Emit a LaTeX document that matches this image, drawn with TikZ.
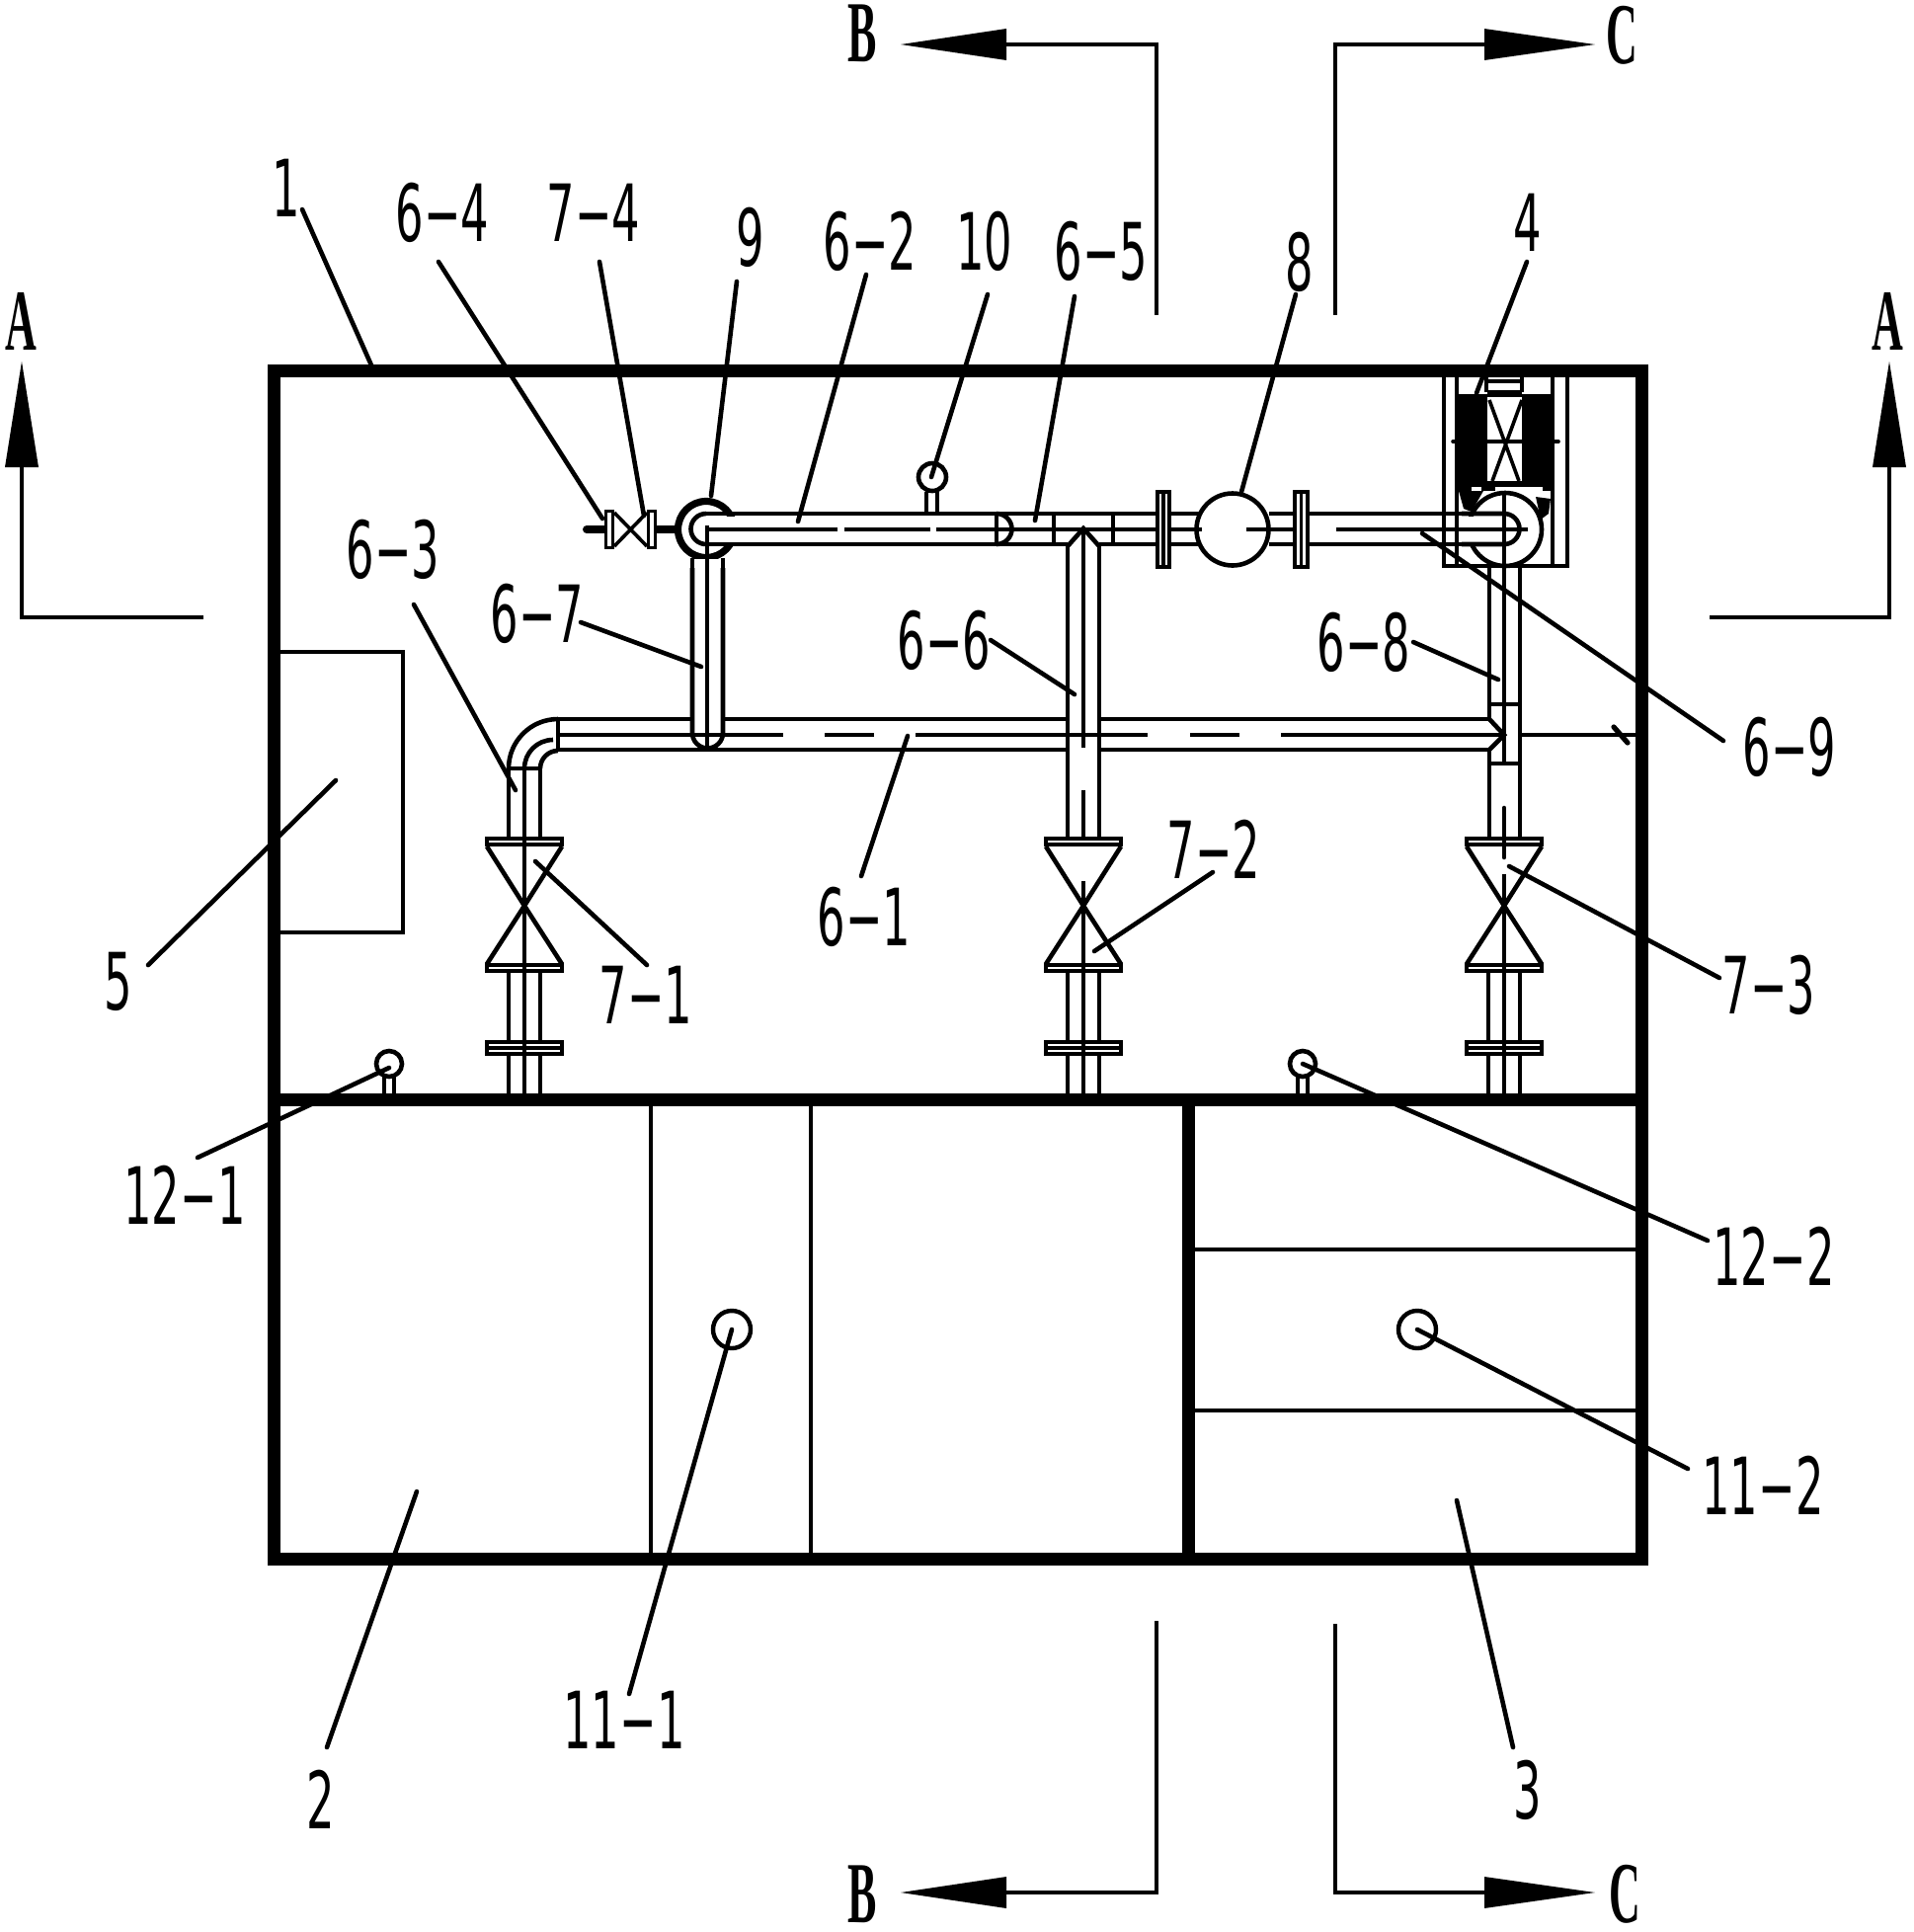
\documentclass[tikz,border=0pt]{standalone}
\usepackage{fontspec}
\usepackage{graphicx}
\newfontfamily\labfont[FakeStretch=0.56]{DejaVu Sans}
\newfontfamily\secfont{Liberation Serif Bold}
\newcommand{\seclet}[1]{\scalebox{0.5}[1]{#1}}
\tikzset{
  x=0.5pt,y=-0.5pt,
  pipe/.style={line width=2.3pt},
  thickwall/.style={line width=6.5pt,line join=miter},
  leader/.style={line width=2.3pt,line cap=round},
  lab/.style={inner sep=0pt,font=\labfont\fontsize{40}{40}\selectfont},
  sec/.style={inner sep=0pt,font=\secfont\fontsize{44}{44}\selectfont},
  secline/.style={line width=2.4pt},
  tip/.style={fill=black,draw=none},
}
\newcommand{\vvalve}[1]{%
  \draw[pipe,fill=white] (#1-38,849) rectangle (#1+38,855);
  \draw[pipe] (#1-38,857) -- (#1,917) -- (#1+38,857);
  \draw[pipe] (#1-38,976) -- (#1,917) -- (#1+38,976);
  \draw[pipe,fill=white] (#1-38,977) rectangle (#1+38,983);
  \draw[pipe,fill=white] (#1-38,1055) rectangle (#1+38,1067);
  \draw[line width=1.6pt] (#1-38,1061) -- (#1+38,1061);
  \draw[pipe] (#1-16,985) -- (#1-16,1054) (#1+16,985) -- (#1+16,1054);
  \draw[pipe] (#1-16,1068) -- (#1-16,1107) (#1+16,1068) -- (#1+16,1107);
}
\newcommand{\leadlab}[6]{% name, text, label x, label y, from, to
  \node[lab] (#1) at (#3,#4) {#2};
  \coordinate (#1a) at #5;
  \coordinate (#1b) at #6;
  \draw[leader] (#1a) -- (#1b);
}
\begin{document}
\begin{tikzpicture}
\useasboundingbox (0,0) rectangle (1938,1956);
\fill[white] (0,0) rectangle (1938,1956);

% ---- frame
\draw[thickwall] (277,375) rectangle (1662,1578);
\draw[thickwall] (277,1113) -- (1662,1113);
\draw[thickwall] (1203,1113) -- (1203,1578);
\draw[line width=2pt] (659,1113) -- (659,1578);
\draw[line width=2pt] (821,1113) -- (821,1578);
\draw[line width=2pt] (1203,1265) -- (1662,1265);
\draw[line width=2pt] (1203,1428) -- (1662,1428);
\draw[line width=2pt] (280,660) -- (408,660) -- (408,944) -- (280,944);

% ---- unit 4 housing
\draw[pipe] (1462,382) -- (1462,573) -- (1587,573) -- (1587,382);
\draw[pipe] (1475,382) -- (1475,573) (1572,382) -- (1572,573);
\fill (1477,399) rectangle (1573,497);
\fill[white] (1506,402) rectangle (1541,487);
\fill[white] (1514,493) rectangle (1562,497);
\fill[white] (1490,493) rectangle (1500,497);
\fill (1477,497) -- (1502,497) -- (1490,518) -- (1482,515) -- cycle;
\fill (1555,503) -- (1570,505) -- (1568,520) -- (1560,526) -- cycle;
\draw[pipe] (1506,386) -- (1541,386) (1506,397) -- (1541,397);
\draw[line width=1.8pt] (1508,405) -- (1538,487) (1541,405) -- (1511,487);
\draw[line width=1.8pt,line cap=round] (1471,447) -- (1578,447);
\draw[pipe] (1505,382) -- (1505,397) (1541,382) -- (1541,397);

% ---- pipes: 6-1 main
\draw[pipe] (565,728) -- (701,728) (732,728) -- (1080,728) (1113,728) -- (1508,728);
\draw[pipe] (565,759) -- (1080,759) (1113,759) -- (1508,759);
\draw[pipe] (565,744) -- (793,744) (835,744) -- (885,744) (927,744) -- (1162,744) (1205,744) -- (1255,744) (1297,744) -- (1520,744);
\draw[pipe] (565,728) -- (565,759);
% elbow
\draw[pipe] (515,778) arc[start angle=180,end angle=270,radius=50];
\draw[pipe] (531,778) arc[start angle=180,end angle=270,radius=29];
\draw[pipe] (547,778) arc[start angle=180,end angle=270,radius=18];
\draw[pipe] (515,778) -- (547,778);
% 6-3
\draw[pipe] (515,778) -- (515,847) (547,778) -- (547,847);
\draw[pipe] (531,778) -- (531,1107);
\vvalve{531}
\draw[pipe] (531,847) -- (531,1107);

% 6-7
\draw[pipe] (701,575) -- (701,742) arc[start angle=180,end angle=0,radius=15.5] -- (732,575);
\draw[pipe] (716,532) -- (716,757);

% 6-6
\draw[pipe] (1081,553) -- (1081,847) (1113,553) -- (1113,847);
\draw[pipe] (1081,553) -- (1097,535) -- (1113,553);
\draw[pipe] (1097,535) -- (1097,757) (1097,800) -- (1097,855);
\vvalve{1097}
\draw[pipe] (1097,892) -- (1097,1107);

% 6-8
\draw[pipe] (1508,573) -- (1508,728) (1508,759) -- (1508,847) (1539,573) -- (1539,847);
\draw[pipe] (1508,728) -- (1523,744) -- (1508,759);
\draw[pipe] (1508,713) -- (1539,713) (1508,773) -- (1539,773);
\draw[pipe] (1523,497) -- (1523,773);
\vvalve{1523}
\draw[pipe,line cap=round] (1523,818) -- (1523,868);
\draw[pipe] (1523,885) -- (1523,1107);
\draw[pipe] (1539,744) -- (1657,744);
\draw[line width=2.6pt,line cap=round] (1634,736) -- (1648,752);

% ---- horizontal upper pipe
\draw[pipe] (715,520) -- (1225,520);
\draw[pipe] (715,551) -- (1081,551) (1113,551) -- (1225,551);
\draw[pipe] (855,536) -- (942,536) (948,536) -- (1217,536);
\draw[pipe] (1009,520) -- (1009,551);
\draw[pipe] (1009,520) arc[start angle=-90,end angle=90,radius=15.5];
\draw[pipe] (1067,520) -- (1067,551) (1127,520) -- (1127,551);

% flanges and pump 8
\draw[pipe,fill=white] (1172,498) rectangle (1184,574);
\draw[line width=1.6pt] (1178,498) -- (1178,574);
\draw[pipe,fill=white] (1248,536) circle[radius=36.5];
\draw[pipe] (1217,536) -- (1209,536);
\draw[pipe] (1285,520) -- (1524,520) (1285,551) -- (1524,551);
\draw[pipe] (1262,536) -- (1326,536);
\draw[pipe,fill=white] (1311,498) rectangle (1324,574);
\draw[line width=1.6pt] (1317.5,498) -- (1317.5,574);

% pump circle at 4
\draw[pipe,fill=white] (1524,536) circle[radius=37];
\fill[white] (1480,522.5) rectangle (1523,548.5);
\draw[pipe] (1480,520) -- (1523,520) arc[start angle=-90,end angle=90,radius=15.5] -- (1480,551);
\draw[pipe] (1353,536) -- (1547,536);
\draw[pipe] (1523,497) -- (1523,573);

% circle 9
\draw[line width=3.6pt,fill=white] (715,536) circle[radius=28.5];
\fill[white] (730,522.5) rectangle (755,548.5);
\fill[white] (703.5,566) rectangle (714,571);
\fill[white] (718,566) rectangle (729.5,571);
\draw[pipe] (715,520) arc[start angle=270,end angle=90,radius=15.5];
\draw[pipe] (715,520) -- (760,520) (715,551) -- (760,551);
\draw[pipe] (715,536) -- (848,536);
\draw[pipe] (716,532) -- (716,580);
\draw[pipe] (701,565) -- (701,580) (732,565) -- (732,580);

% valve 7-4
\draw[line width=4pt,line cap=round] (594,536) -- (612,536);
\draw[line width=4pt] (665,536) -- (685,536);
\draw[line width=1.6pt,fill=white] (613.6,517.5) rectangle (620.4,554.5);
\draw[line width=1.6pt,fill=white] (656.6,517.5) rectangle (663.4,554.5);
\draw[line width=1.8pt] (622,519) -- (655,553) (622,553) -- (655,519);

% gauges
\draw[pipe] (938,498) -- (938,520) (949,498) -- (949,520);
\draw[pipe,fill=white] (944,483) circle[radius=14];
\draw[pipe] (389,1090) -- (389,1107) (399,1090) -- (399,1107);
\draw[pipe,fill=white] (394,1077) circle[radius=13];
\draw[pipe] (1314,1090) -- (1314,1107) (1324,1090) -- (1324,1107);
\draw[pipe,fill=white] (1319,1077) circle[radius=13];
\draw[line width=2.2pt] (741,1346) circle[radius=19];
\draw[line width=2.2pt] (1435,1346) circle[radius=19];

% ---- leaders and labels
\leadlab{n1}{1}{290}{190}{(306,212)}{(377,372)}
\leadlab{n64}{6−4}{448}{215}{(444,265)}{(610,525)}
\leadlab{n74}{7−4}{601}{215}{(607,265)}{(652,522)}
\leadlab{n9}{9}{760}{240}{(746,285)}{(720,502)}
\leadlab{n62}{6−2}{881}{244}{(877,278)}{(808,528)}
\leadlab{n10}{10}{997}{244}{(1000,298)}{(943,483)}
\leadlab{n65}{6−5}{1115}{254}{(1088,300)}{(1048,527)}
\leadlab{n8}{8}{1316}{265}{(1312,298)}{(1257,498)}
\leadlab{n4}{4}{1547}{225}{(1546,265)}{(1495,398)}
\leadlab{n63}{6−3}{398}{556}{(419,612)}{(522,800)}
\leadlab{n67}{6−7}{544}{621}{(588,630)}{(710,675)}
\leadlab{n66}{6−6}{956}{648}{(1003,648)}{(1088,703)}
\leadlab{n68}{6−8}{1381}{650}{(1431,650)}{(1517,688)}
\leadlab{n69}{6−9}{1812}{756}{(1440,540)}{(1745,750)}
\leadlab{n61}{6−1}{875}{928}{(872,887)}{(919,745)}
\leadlab{n5}{5}{120}{994}{(150,977)}{(340,790)}
\leadlab{n71}{7−1}{654}{1007}{(542,872)}{(655,977)}
\leadlab{n72}{7−2}{1229}{860}{(1228,883)}{(1108,963)}
\leadlab{n73}{7−3}{1791}{997}{(1528,877)}{(1741,990)}
\leadlab{n121}{12−1}{187}{1210}{(200,1172)}{(394,1081)}
\leadlab{n122}{12−2}{1796}{1272}{(1319,1077)}{(1729,1256)}
\leadlab{n111}{11−1}{632}{1741}{(741,1346)}{(637,1715)}
\leadlab{n112}{11−2}{1785}{1504}{(1435,1346)}{(1709,1487)}
\leadlab{n2}{2}{325}{1822}{(422,1510)}{(331,1769)}
\leadlab{n3}{3}{1547}{1812}{(1475,1519)}{(1532,1769)}

% ---- section marks
\node[sec] (secAl) at (21,325) {\seclet{A}};
\node[sec] (secAr) at (1911,325) {\seclet{A}};
\node[sec] (secBt) at (873,34) {\seclet{B}};
\node[sec] (secBb) at (873,1918) {\seclet{B}};
\node[sec] (secCt) at (1642,36) {\seclet{C}};
\node[sec] (secCb) at (1645,1918) {\seclet{C}};

\draw[secline] (22,473) -- (22,625) -- (206,625);
\fill[tip] (22,366) -- (39,473) -- (5,473) -- cycle;
\draw[secline] (1913,473) -- (1913,625) -- (1731,625);
\fill[tip] (1913,366) -- (1930,473) -- (1896,473) -- cycle;
\draw[secline] (1019,45) -- (1171,45) -- (1171,319);
\fill[tip] (912,45) -- (1019,29) -- (1019,61) -- cycle;
\draw[secline] (1503,45) -- (1352,45) -- (1352,319);
\fill[tip] (1615,45) -- (1503,29) -- (1503,61) -- cycle;
\draw[secline] (1019,1916) -- (1171,1916) -- (1171,1641);
\fill[tip] (912,1916) -- (1019,1900) -- (1019,1932) -- cycle;
\draw[secline] (1503,1916) -- (1352,1916) -- (1352,1644);
\fill[tip] (1615,1916) -- (1503,1900) -- (1503,1932) -- cycle;
\end{tikzpicture}
\end{document}
